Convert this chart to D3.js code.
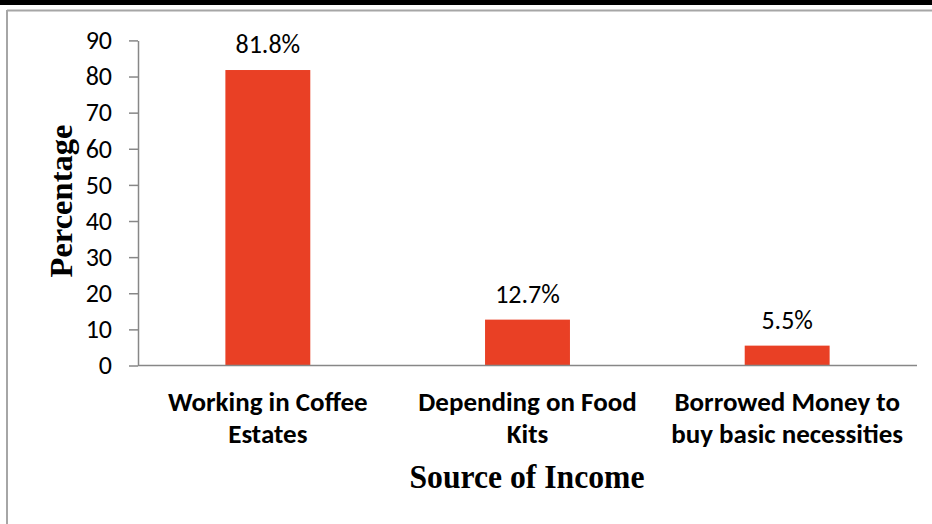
<!DOCTYPE html>
<html>
<head>
<meta charset="utf-8">
<script src="https://cdn.jsdelivr.net/npm/d3@7/dist/d3.min.js"></script>
<style>
  html, body { margin: 0; padding: 0; background: #fff; }
  svg { display: block; }
</style>
</head>
<body>
<svg id="chart" width="932" height="524"></svg>
<script>
// Source of income among respondents (percent)
const categories = [
  ["Working in Coffee", "Estates"],
  ["Depending on Food", "Kits"],
  ["Borrowed Money to", "buy basic necessities"]
];
const values = [81.8, 12.7, 5.5];
const valueLabels = ["81.8%", "12.7%", "5.5%"];
const yTicks = [0, 10, 20, 30, 40, 50, 60, 70, 80, 90];
const yTitle = "Percentage";
const xTitle = "Source of Income";

const svg = d3.select("#chart");
const W = 932, H = 524;

// page frame: heavy top rule, thin grey rule and left edge
svg.append("rect").attr("x", 0).attr("y", 0).attr("width", W).attr("height", 5).attr("fill", "#000");
svg.append("line").attr("x1", 7).attr("x2", W).attr("y1", 10.5).attr("y2", 10.5)
  .attr("stroke", "#a6a6a6").attr("stroke-width", 2);
svg.append("line").attr("x1", 7).attr("x2", 7).attr("y1", 10).attr("y2", H)
  .attr("stroke", "#a6a6a6").attr("stroke-width", 2);

const plot = { left: 138, right: 917, top: 40.4, bottom: 365.5 };

const x = d3.scaleBand()
  .domain(d3.range(values.length))
  .range([plot.left, plot.right])
  .paddingInner(0.673)
  .paddingOuter(0.3365);

const y = d3.scaleLinear().domain([0, 90]).range([plot.bottom, plot.top]);

const fontSans = "Carlito, Lato, 'Open Sans', sans-serif";
const fontSerif = "'Liberation Serif', 'Times New Roman', serif";

// bars
svg.append("g").selectAll("rect").data(values).join("rect")
  .attr("x", (d, i) => x(i))
  .attr("width", x.bandwidth())
  .attr("y", d => y(d))
  .attr("height", d => y(0) - y(d))
  .attr("fill", "#e94025");

// y axis
const yAxis = d3.axisLeft(y).tickValues(yTicks).tickSize(9).tickPadding(17).tickSizeOuter(0);
const gy = svg.append("g").attr("transform", `translate(${plot.left},0)`).call(yAxis);
gy.select(".domain").attr("stroke", "#878787").attr("stroke-width", 1.5);
gy.selectAll(".tick line").attr("stroke", "#878787").attr("stroke-width", 1.5);
gy.selectAll(".tick text")
  .attr("font-family", fontSans).attr("font-size", 26).attr("fill", "#000");

// x axis baseline
svg.append("line")
  .attr("x1", plot.left).attr("x2", plot.right)
  .attr("y1", y(0)).attr("y2", y(0))
  .attr("stroke", "#878787").attr("stroke-width", 1.5);

// value labels above bars
svg.append("g").selectAll("text").data(values).join("text")
  .attr("x", (d, i) => x(i) + x.bandwidth() / 2)
  .attr("y", d => y(d) - 17)
  .attr("text-anchor", "middle")
  .attr("font-family", fontSans).attr("font-size", 26).attr("fill", "#000")
  .text((d, i) => valueLabels[i]);

// category labels, two lines each
const cat = svg.append("g").selectAll("text").data(categories).join("text")
  .attr("text-anchor", "middle")
  .attr("font-family", fontSans).attr("font-size", 27).attr("font-weight", "bold").attr("fill", "#000");
cat.each(function (lines, i) {
  const cx = x(i) + x.bandwidth() / 2;
  d3.select(this).selectAll("tspan").data(lines).join("tspan")
    .attr("x", cx)
    .attr("y", (d, j) => 411 + j * 32)
    .text(d => d);
});

// axis titles
svg.append("text")
  .attr("x", 527).attr("y", 488)
  .attr("text-anchor", "middle")
  .attr("font-family", fontSerif).attr("font-size", 33).attr("font-weight", "bold")
  .attr("textLength", 235).attr("lengthAdjust", "spacingAndGlyphs")
  .text(xTitle);

svg.append("text")
  .attr("transform", "translate(72,201) rotate(-90)")
  .attr("text-anchor", "middle")
  .attr("font-family", fontSerif).attr("font-size", 31).attr("font-weight", "bold")
  .attr("textLength", 153).attr("lengthAdjust", "spacingAndGlyphs")
  .text(yTitle);
</script>
</body>
</html>
